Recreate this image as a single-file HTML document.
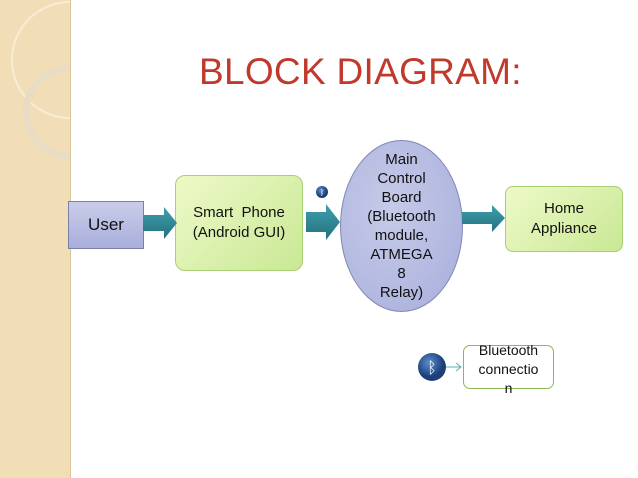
<!DOCTYPE html>
<html><head><style>
body{margin:0;width:638px;height:478px;overflow:hidden;background:#fff;position:relative;font-family:"Liberation Sans",sans-serif}
.a{position:absolute}
.t{display:flex;align-items:center;justify-content:center;text-align:center;color:#111}
</style></head><body>
<div class="a" style="left:0;top:0;width:70px;height:478px;background:#f1deb6;border-right:1px solid #d9c59a"></div>
<svg class="a" style="left:0;top:0" width="70" height="160">
<circle cx="70" cy="60" r="58" fill="none" stroke="#f7ecd4" stroke-width="2"/>
<circle cx="70" cy="112" r="44" fill="none" stroke="#e8dcc4" stroke-width="7"/>
</svg>
<div class="a" style="left:199px;top:51px;font-size:37px;color:#c0392b;letter-spacing:0.3px">BLOCK DIAGRAM:</div>
<div class="a t" style="left:68px;top:201px;width:74px;height:46px;background:linear-gradient(#c9cde9,#a9aedb);border:1px solid #7c80a8;font-size:17px">User</div>
<div class="a t" style="left:175px;top:175px;width:126px;height:94px;background:linear-gradient(135deg,#eef9c8,#c9e894);border:1px solid #a9cf74;border-radius:10px;font-size:15px;line-height:20px">Smart&nbsp; Phone<br>(Android GUI)</div>
<div class="a t" style="left:340px;top:140px;width:121px;height:170px;background:radial-gradient(ellipse at 40% 40%,#c6cbe9,#a7addb);border:1px solid #8186b3;border-radius:50%;font-size:15px;line-height:19px">Main<br>Control<br>Board<br>(Bluetooth<br>module,<br>ATMEGA<br>8<br>Relay)</div>
<div class="a t" style="left:505px;top:186px;width:116px;height:64px;background:linear-gradient(135deg,#eef9c8,#c9e894);border:1px solid #a9cf74;border-radius:8px;font-size:15px;line-height:20px">Home<br>Appliance</div>
<div class="a t" style="left:463px;top:345px;width:89px;height:42px;border:1.5px solid #8db85a;border-radius:7px;font-size:14px;line-height:19px;align-items:flex-start;padding-top:0"><div style="margin-top:-5px">Bluetooth<br>connectio<br>n</div></div>
<svg class="a" style="left:0;top:0" width="638" height="478">
<defs><linearGradient id="g" x1="0" y1="0" x2="0" y2="1"><stop offset="0" stop-color="#3fa0ad"/><stop offset="1" stop-color="#24707c"/></linearGradient>
<radialGradient id="b" cx="0.4" cy="0.35"><stop offset="0" stop-color="#5a8fd0"/><stop offset="1" stop-color="#1c3f78"/></radialGradient></defs>
<polygon points="143,215 164,215 164,207 177,223 164,239 164,231 143,231" fill="url(#g)"/>
<polygon points="306,212 326,212 326,204 340,222 326,240 326,232 306,232" fill="url(#g)"/>
<polygon points="462,212 492,212 492,205 505,218 492,232 492,224 462,224" fill="url(#g)"/>
<circle cx="322" cy="192" r="6" fill="url(#b)"/>
<text x="322" y="195" font-size="8" fill="#fff" text-anchor="middle">ᛒ</text>
<circle cx="432" cy="367" r="14" fill="url(#b)"/>
<text x="432" y="373" font-size="16" fill="#fff" text-anchor="middle">ᛒ</text>
<line x1="446" y1="367" x2="461" y2="367" stroke="#5bb0b8" stroke-width="1"/>
<polyline points="456,363 461,367 456,371" fill="none" stroke="#5bb0b8"/>
</svg>
</body></html>
